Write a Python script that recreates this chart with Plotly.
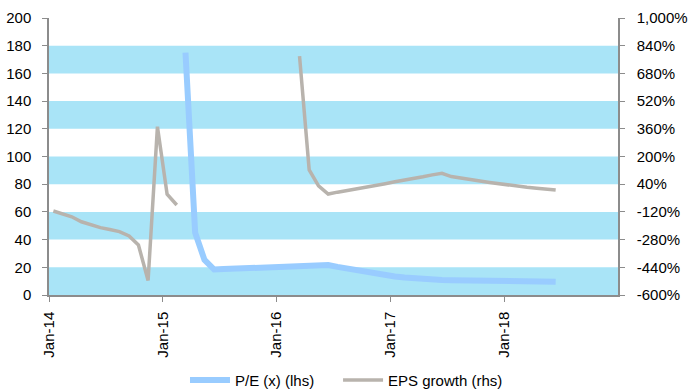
import plotly.graph_objects as go

# Monthly dates, Jan-14 .. Jun-18 (mid-month)
months = [f"{y}-{m:02d}-15" for y in range(2014, 2019) for m in range(1, 13)][:54]

# EPS growth (%), right axis
eps_growth = [
    -115, -132, -148, -177, -194, -211, -222, -234, -259, -311, -516, 372, -18, -80,
    None, None, None, None, None, None, None, None, None, None, None, None,
    780, 122, 30, -17, -6, 3, 14, 23, 34, 43, 54, 63, 74, 83, 94, 103,
    84, 74, 66, 58, 50, 42, 35, 29, 22, 17, 11, 6,
]

# P/E (x), left axis
pe_ratio = [None] * 14 + [
    175, 45, 25.3, 18.4, 18.7, 19.0, 19.3, 19.6, 19.9, 20.2, 20.5, 20.8, 21.0, 21.2, 21.4, 21.7,
    20.3, 19.0, 17.7, 16.4, 15.2, 14.2, 13.3, 12.6, 12.0, 11.5, 11.1, 10.8,
    10.7, 10.6, 10.5, 10.4, 10.3, 10.2, 10.1, 10.0, 9.9, 9.8, 9.7, 9.6,
]

x_tick_dates = ["2014-01-01", "2015-01-01", "2016-01-01", "2017-01-01", "2018-01-01"]
x_tick_labels = ["Jan-14", "Jan-15", "Jan-16", "Jan-17", "Jan-18"]
left_ticks = list(range(0, 201, 20))
right_ticks = list(range(-600, 1001, 160))
right_labels = [f"{v:,}%" for v in right_ticks]

FONT = "Liberation Sans, Arial, sans-serif"
BAND = "#A9E4F7"
AXIS = "#8C8C8C"

fig = go.Figure()
fig.add_trace(go.Scatter(
    x=months, y=pe_ratio, name="P/E (x) (lhs)", mode="lines",
    line=dict(color="#99CCFF", width=6), connectgaps=False, yaxis="y",
    legend="legend",
))
fig.add_trace(go.Scatter(
    x=months, y=eps_growth, name="EPS growth (rhs)", mode="lines",
    line=dict(color="#B8B3AD", width=3.5), connectgaps=False, yaxis="y2",
    legend="legend2",
))

shapes = []
for lo in range(0, 200, 40):
    shapes.append(dict(type="rect", xref="paper", yref="y", x0=0, x1=1, y0=lo, y1=lo + 20,
                       fillcolor=BAND, line=dict(width=0), layer="below"))

legend_common = dict(orientation="h", xanchor="left", yref="container",
                     y=0.03, yanchor="middle", itemwidth=40,
                     font=dict(size=15), bgcolor="rgba(0,0,0,0)")

fig.update_layout(
    width=689, height=392,
    margin=dict(l=49, r=71, t=18, b=97),
    paper_bgcolor="white", plot_bgcolor="white",
    font=dict(family=FONT, size=15, color="#000000"),
    shapes=shapes,
    showlegend=True,
    legend=dict(x=0.239, **legend_common),
    legend2=dict(x=0.508, **legend_common),
    xaxis=dict(
        type="date", range=["2014-01-01", "2019-01-01"], automargin=False,
        tickvals=x_tick_dates, ticktext=x_tick_labels, tickangle=-90,
        showgrid=False, zeroline=False, showline=True, linecolor=AXIS, linewidth=1.5,
        ticks="outside", ticklen=5, tickcolor=AXIS, ticklabelstandoff=4,
    ),
    yaxis=dict(
        range=[0, 200], tickvals=left_ticks, showgrid=False, zeroline=False,
        showline=True, linecolor=AXIS, linewidth=1.5, automargin=False,
        ticks="outside", ticklen=5, tickcolor=AXIS, ticklabelstandoff=8,
    ),
    yaxis2=dict(
        range=[-600, 1000], tickvals=right_ticks, ticktext=right_labels,
        overlaying="y", side="right", showgrid=False, zeroline=False,
        showline=True, linecolor=AXIS, linewidth=1.5, automargin=False,
        ticks="outside", ticklen=5, tickcolor=AXIS, ticklabelstandoff=9,
    ),
)

fig.write_html("out.html", config={"displayModeBar": False},
               post_script="document.body.style.margin='0';")
